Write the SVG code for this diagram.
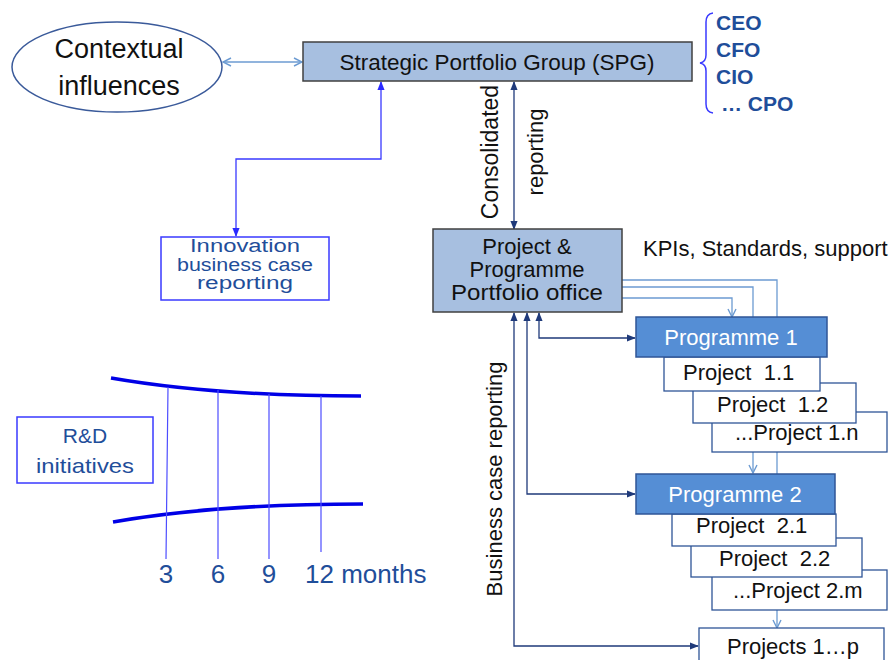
<svg xmlns="http://www.w3.org/2000/svg" width="895" height="660" viewBox="0 0 895 660">
<style>
text{font-family:"Liberation Sans",Arial,sans-serif;}
.blk{fill:#111;font-size:22px;}
.blu{fill:#1f4e9a;}
.wht{fill:#fff;font-size:22px;}
.exec{fill:#1f4e9a;font-size:21px;font-weight:bold;}
.steel{fill:#a7bfe0;stroke:#404040;stroke-width:1.5;}
.prog{fill:#558ed5;stroke:#2f5597;stroke-width:1.5;}
.proj{fill:#fff;stroke:#2f5597;stroke-width:1.3;}
.lt{fill:none;stroke:#6c9bd2;stroke-width:1.3;}
.navy{fill:none;stroke:#1f3a7a;stroke-width:1.3;}
.bb{fill:none;stroke:#3a3aff;stroke-width:1.3;}
</style>
<defs>
<marker id="open" viewBox="0 0 10 10" refX="9" refY="5" markerWidth="10" markerHeight="10" markerUnits="userSpaceOnUse" orient="auto-start-reverse">
<path d="M1,1 L9,5 L1,9" fill="none" stroke="#6c9bd2" stroke-width="1.4"/>
</marker>
<marker id="navyA" viewBox="0 0 10 10" refX="9" refY="5" markerWidth="9" markerHeight="9" markerUnits="userSpaceOnUse" orient="auto-start-reverse">
<path d="M0,1 L10,5 L0,9 z" fill="#1f3a7a"/>
</marker>
<marker id="blueA" viewBox="0 0 10 10" refX="9" refY="5" markerWidth="9" markerHeight="9" markerUnits="userSpaceOnUse" orient="auto-start-reverse">
<path d="M0,1 L10,5 L0,9 z" fill="#2a2aff"/>
</marker>
</defs>

<g id="connectors">
<path class="lt" d="M223,62 H302" marker-start="url(#open)" marker-end="url(#open)"/>
<path class="bb" d="M381,82 V159 H236 V236" marker-start="url(#blueA)" marker-end="url(#blueA)"/>
<path class="navy" d="M514,82 V229" marker-start="url(#navyA)" marker-end="url(#navyA)"/>
<path class="lt" d="M622,298 H732 V317" marker-end="url(#open)"/>
<path class="lt" d="M622,287 H753 V473" marker-end="url(#open)"/>
<path class="lt" d="M622,280 H777 V628" marker-end="url(#open)"/>
<path class="navy" d="M539,313 V338 H635" marker-start="url(#navyA)" marker-end="url(#navyA)"/>
<path class="navy" d="M527,313 V494 H635" marker-start="url(#navyA)" marker-end="url(#navyA)"/>
<path class="navy" d="M514,313 V646 H698" marker-start="url(#navyA)" marker-end="url(#navyA)"/>
</g>

<g id="contextual">
<ellipse cx="117" cy="67" rx="105" ry="45" fill="#fff" stroke="#3a5a9a" stroke-width="1.5"/>
<text x="119" y="58" text-anchor="middle" class="blk" style="font-size:27px">Contextual</text>
<text x="119" y="95" text-anchor="middle" class="blk" style="font-size:27px">influences</text>
</g>

<g id="spg">
<rect class="steel" x="303" y="42" width="389" height="39"/>
<text x="497" y="70" text-anchor="middle" class="blk" style="font-size:22.5px">Strategic Portfolio Group (SPG)</text>
</g>

<g id="executives">
<path d="M713,13 Q706,14 706,22 V55 Q706,62 700,63 Q706,64 706,71 V104 Q706,112 713,113" fill="none" stroke="#3a3aff" stroke-width="1.5"/>
<text x="716" y="30" class="exec">CEO</text>
<text x="716" y="57" class="exec">CFO</text>
<text x="716" y="84" class="exec">CIO</text>
<text x="721" y="111" class="exec">… CPO</text>
</g>

<g id="consolidated-label">
<text transform="translate(498,152) rotate(-90)" text-anchor="middle" class="blk" style="font-size:23px">Consolidated</text>
<text transform="translate(543,152) rotate(-90)" text-anchor="middle" class="blk">reporting</text>
</g>

<g id="innovation">
<rect x="161" y="237" width="168" height="63" fill="#fff" stroke="#3a3aff" stroke-width="1.5"/>
<text x="245" y="252" text-anchor="middle" class="blu" style="font-size:18px" textLength="110" lengthAdjust="spacingAndGlyphs">Innovation</text>
<text x="245" y="270.5" text-anchor="middle" class="blu" style="font-size:18px" textLength="136" lengthAdjust="spacingAndGlyphs">business case</text>
<text x="245" y="289" text-anchor="middle" class="blu" style="font-size:18px" textLength="96" lengthAdjust="spacingAndGlyphs">reporting</text>
</g>

<g id="ppo">
<rect class="steel" x="433" y="229" width="189" height="83"/>
<text x="527" y="254" text-anchor="middle" class="blk" style="font-size:22px">Project &amp;</text>
<text x="527" y="277" text-anchor="middle" class="blk" style="font-size:22px">Programme</text>
<text x="527" y="300" text-anchor="middle" class="blk" style="font-size:22px" textLength="152" lengthAdjust="spacingAndGlyphs">Portfolio office</text>
</g>

<g id="kpis">
<text x="643" y="256" class="blk">KPIs, Standards, support</text>
</g>

<g id="business-case-label">
<text transform="translate(502,479) rotate(-90)" text-anchor="middle" class="blk">Business case reporting</text>
</g>

<g id="project-1n">
<rect class="proj" x="712" y="412" width="175" height="40"/>
<text x="735" y="440" class="blk">...Project 1.n</text>
</g>
<g id="project-12">
<rect class="proj" x="693" y="383" width="163" height="40"/>
<text x="717" y="412" class="blk">Project&#160; 1.2</text>
</g>
<g id="project-11">
<rect class="proj" x="664" y="357" width="156" height="34"/>
<text x="683" y="380" class="blk">Project&#160; 1.1</text>
</g>
<g id="programme-1">
<rect class="prog" x="636" y="317" width="191" height="40"/>
<text x="731" y="345" text-anchor="middle" class="wht">Programme 1</text>
</g>

<g id="project-2m">
<rect class="proj" x="712" y="570" width="175" height="40"/>
<text x="733" y="598" class="blk">...Project 2.m</text>
</g>
<g id="project-22">
<rect class="proj" x="691" y="538" width="171" height="39"/>
<text x="719" y="566" class="blk">Project&#160; 2.2</text>
</g>
<g id="project-21">
<rect class="proj" x="672" y="514" width="164" height="32"/>
<text x="696" y="533" class="blk">Project&#160; 2.1</text>
</g>
<g id="programme-2">
<rect class="prog" x="636" y="474" width="199" height="40"/>
<text x="735" y="502" text-anchor="middle" class="wht">Programme 2</text>
</g>

<g id="projects-1p">
<rect class="proj" x="699" y="628" width="185" height="40"/>
<text x="727" y="654" class="blk">Projects 1…p</text>
</g>

<g id="rd">
<rect x="17" y="417" width="136" height="66" fill="#fff" stroke="#3a3aff" stroke-width="1.5"/>
<text x="85" y="443" text-anchor="middle" class="blu" style="font-size:21px">R&amp;D</text>
<text x="85" y="473" text-anchor="middle" class="blu" style="font-size:21px" textLength="98" lengthAdjust="spacingAndGlyphs">initiatives</text>
</g>

<g id="timeline">
<path d="M111,378 C180,390 260,396 361,396" fill="none" stroke="#0000e6" stroke-width="3.5"/>
<path d="M113,522 C180,510 260,504 363,504" fill="none" stroke="#0000e6" stroke-width="3.5"/>
<path d="M168,387 L166,559 M218,390 V559 M269,394 V559 M321,396 V552" fill="none" stroke="#4d4dff" stroke-width="1.2"/>
<text x="166" y="583" text-anchor="middle" class="blu" style="font-size:26px">3</text>
<text x="218" y="583" text-anchor="middle" class="blu" style="font-size:26px">6</text>
<text x="269" y="583" text-anchor="middle" class="blu" style="font-size:26px">9</text>
<text x="305" y="583" class="blu" style="font-size:26px">12 months</text>
</g>
</svg>
